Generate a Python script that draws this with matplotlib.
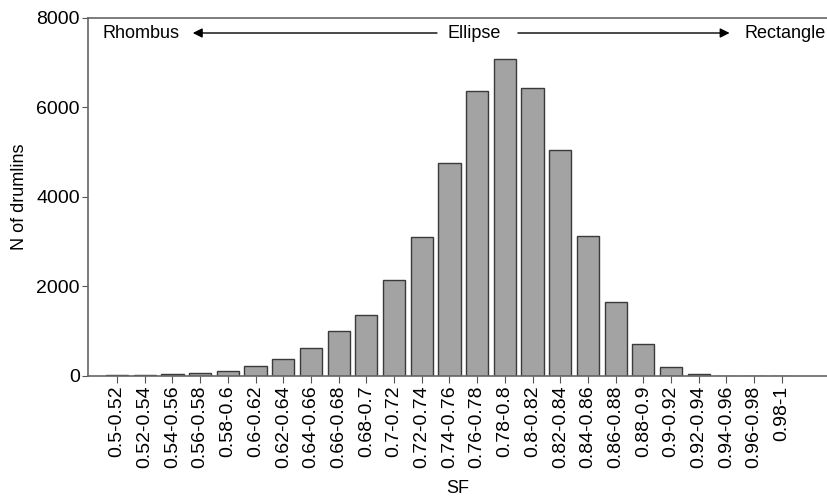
import matplotlib.pyplot as plt

plt.rcParams['font.family'] = ['Liberation Sans', 'DejaVu Sans']

sf_bins = ['0.5-0.52', '0.52-0.54', '0.54-0.56', '0.56-0.58', '0.58-0.6',
           '0.6-0.62', '0.62-0.64', '0.64-0.66', '0.66-0.68', '0.68-0.7',
           '0.7-0.72', '0.72-0.74', '0.74-0.76', '0.76-0.78', '0.78-0.8',
           '0.8-0.82', '0.82-0.84', '0.84-0.86', '0.86-0.88', '0.88-0.9',
           '0.9-0.92', '0.92-0.94', '0.94-0.96', '0.96-0.98', '0.98-1']
n_drumlins = [20, 25, 45, 75, 115, 215, 390, 625, 1005, 1370,
              2140, 3115, 4760, 6375, 7090, 6435, 5045, 3125, 1650, 720,
              200, 40, 5, 3, 2]

fig = plt.figure(figsize=(8.27, 4.99), dpi=100)
ax = fig.add_axes([0.1064, 0.2465, 0.8936, 0.7175])

x = range(len(sf_bins))
ax.bar(x, n_drumlins, width=0.8, color='#a3a3a3', edgecolor='#3a3a3a', linewidth=1)

ax.set_xlim(-1.05, 25.63)
ax.set_ylim(0, 8000)
ax.set_yticks([0, 2000, 4000, 6000, 8000])
ax.set_xticks(list(x))
ax.set_xticklabels(sf_bins, rotation=90, fontsize=14)
ax.tick_params(axis='y', labelsize=14, length=4, pad=2, color='#555555')
ax.tick_params(axis='x', length=5, pad=2, color='#555555')

for side in ['left', 'bottom', 'top']:
    ax.spines[side].set_color('#666666')
    ax.spines[side].set_linewidth(1.2)
ax.spines['right'].set_visible(False)

ax.set_ylabel('N of drumlins', fontsize=13, labelpad=6)
ax.set_xlabel('SF', fontsize=13)
ax.xaxis.set_label_coords(0.5, -0.29)

# shape annotation along the top
ty = 0.958
ax.text(0.019, ty, 'Rhombus', transform=ax.transAxes, fontsize=13, va='center', ha='left')
ax.text(0.522, ty, 'Ellipse', transform=ax.transAxes, fontsize=13, va='center', ha='center')
ax.text(0.998, ty, 'Rectangle', transform=ax.transAxes, fontsize=13, va='center', ha='right')
ax.annotate('', xy=(0.138, ty), xytext=(0.476, ty), xycoords='axes fraction',
            arrowprops=dict(arrowstyle='-|>', color='black', lw=1, mutation_scale=14))
ax.annotate('', xy=(0.872, ty), xytext=(0.578, ty), xycoords='axes fraction',
            arrowprops=dict(arrowstyle='-|>', color='black', lw=1, mutation_scale=14))

fig.savefig('out.png', dpi=100)
